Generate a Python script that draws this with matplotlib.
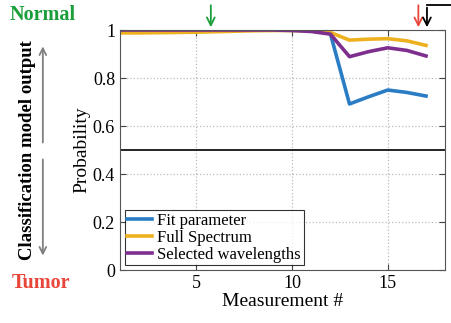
import numpy as np
import matplotlib
matplotlib.use("Agg")
import matplotlib.pyplot as plt

plt.rcParams['font.family'] = ['Liberation Serif', 'DejaVu Serif']

measurement = [1, 2, 3, 4, 5, 6, 7, 8, 9, 10, 11, 12, 13, 14, 15, 16, 17]
fit_param = [1.0, 1.0, 1.0, 1.0, 1.0, 1.0, 1.0, 1.0, 1.0, 1.0, 0.998, 0.985,
             0.692, 0.722, 0.750, 0.740, 0.725]
full_spec = [0.988, 0.988, 0.989, 0.990, 0.991, 0.993, 0.995, 0.997, 0.998, 0.998, 0.997, 0.990,
             0.958, 0.962, 0.964, 0.955, 0.936]
selected = [1.0, 1.0, 1.0, 1.0, 1.0, 1.0, 1.0, 1.0, 1.0, 0.998, 0.994, 0.983,
            0.889, 0.910, 0.926, 0.915, 0.892]

fig = plt.figure(figsize=(4.51, 3.23), dpi=100)
ax = fig.add_axes([0.266, 0.164, 0.721, 0.743])

ax.plot(measurement, fit_param, color='#2a7cc4', lw=2.6, label='Fit parameter')
ax.plot(measurement, full_spec, color='#EDB120', lw=2.6, label='Full Spectrum')
ax.plot(measurement, selected, color='#7E2F8E', lw=2.6, label='Selected wavelengths')
ax.axhline(0.5, color='black', lw=1.2)

ax.set_xlim(1, 18)
ax.set_ylim(0, 1)
ax.set_xticks([5, 10, 15])
ax.set_yticks([0, 0.2, 0.4, 0.6, 0.8, 1])
ax.set_yticklabels(['0', '0.2', '0.4', '0.6', '0.8', '1'])
ax.grid(True, linestyle=':', color='#bbbbbb', lw=0.9)
ax.tick_params(direction='in', top=True, right=True, labelsize=13, length=4, color='#444444')
for s in ax.spines.values():
    s.set_color('#555555')
ax.set_xlabel('Measurement #', fontsize=14, labelpad=1)
ax.set_ylabel('Probability', fontsize=14, labelpad=2)

leg = ax.legend(loc='lower left', fontsize=12, frameon=True, fancybox=False,
                edgecolor='black', handlelength=1.5, handletextpad=0.3,
                borderpad=0.15, labelspacing=0.05, borderaxespad=0.3)
leg.get_frame().set_linewidth(0.8)

# arrows above the axes
arr = dict(arrowstyle='->', lw=1.3, mutation_scale=14)
ax.annotate('', xy=(5.75, 1.0), xytext=(5.75, 1.115), xycoords='data',
            arrowprops=dict(arr, color='#1a9e3a'), annotation_clip=False)
ax.annotate('', xy=(16.6, 1.0), xytext=(16.6, 1.115), xycoords='data',
            arrowprops=dict(arr, color='#e8463a'), annotation_clip=False)
ax.annotate('', xy=(17.05, 1.0), xytext=(17.05, 1.105), xycoords='data',
            arrowprops=dict(arr, color='black'), annotation_clip=False)
ax.plot([17.05, 18.4], [1.105, 1.105], color='black', lw=1.3, clip_on=False)

# left side annotation
fig.text(0.095, 0.955, 'Normal', color='#1a9e3a', fontsize=14.5, fontweight='bold',
         ha='center', va='center')
fig.text(0.09, 0.125, 'Tumor', color='#e8463a', fontsize=14.5, fontweight='bold',
         ha='center', va='center')
fig.text(0.062, 0.535, 'Classification model output', rotation=90, fontsize=13.5,
         fontweight='bold', ha='center', va='center')
fig.add_artist(matplotlib.patches.FancyArrowPatch((0.095, 0.55), (0.095, 0.865),
               transform=fig.transFigure, arrowstyle='->', color='gray', lw=1.3,
               mutation_scale=12))
fig.add_artist(matplotlib.patches.FancyArrowPatch((0.095, 0.515), (0.095, 0.2),
               transform=fig.transFigure, arrowstyle='->', color='gray', lw=1.3,
               mutation_scale=12))

fig.savefig('out.png', dpi=100)
